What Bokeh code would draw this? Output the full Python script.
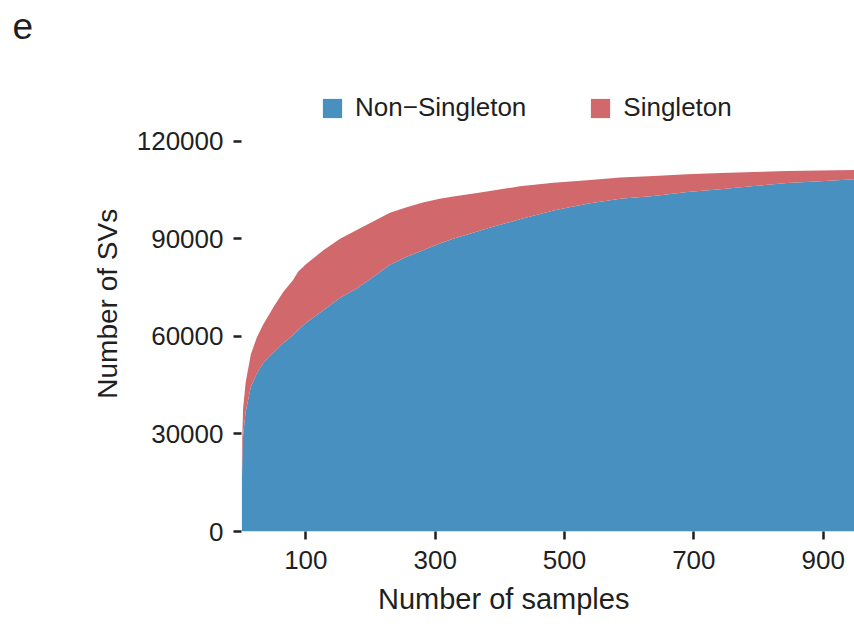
from bokeh.plotting import figure
from bokeh.models import (ColumnDataSource, FixedTicker, BasicTickFormatter, Legend,
                          LegendItem, Range1d)
from bokeh.embed import file_html
from bokeh.resources import INLINE

# ---- data ----
samples = [1, 2, 3, 7, 15, 24, 34, 44, 50, 65, 80, 88, 101, 127, 153, 178, 204, 230,
           256, 281, 307, 328, 380, 431, 483, 535, 586, 638, 690, 741, 793, 844, 896, 948]
non_singleton = [14000, 24000, 29700, 36900, 44500, 48600, 51800, 54000, 55000, 57900,
                 60400, 62000, 64300, 68100, 71900, 74700, 78300, 82100, 84500, 86500,
                 88600, 90100, 93200, 96050, 98800, 100860, 102400, 103200, 104450,
                 105270, 106300, 107200, 107800, 108400]
singleton = [9500, 7000, 8200, 9100, 10000, 11000, 11900, 13000, 14100, 15800,
             16900, 17900, 18100, 18400, 18200, 18000, 17100, 16000, 15300, 14700,
             13800, 13000, 11450, 10150, 8500, 7240, 6550, 6200, 5450, 5030, 4300,
             3700, 3300, 2800]
series_names = ["Non\u2212Singleton", "Singleton"]
x_ticks = [100, 300, 500, 700, 900]
y_ticks = [0, 30000, 60000, 90000, 120000]

BLUE = "#4790C0"
RED = "#D0686C"
TXT = "#1f1f1f"
FONT = "Liberation Sans"
NB = "\u00a0"

src = ColumnDataSource(dict(samples=samples, non_singleton=non_singleton, singleton=singleton))

p = figure(frame_width=613, frame_height=471,
           min_border_left=241, min_border_right=0, min_border_top=60, min_border_bottom=93,
           x_range=Range1d(0.5, 948.4), y_range=Range1d(0, 144923),
           output_backend="svg", toolbar_location=None)
p.outline_line_color = None
p.xgrid.visible = False
p.ygrid.visible = False
p.background_fill_color = "white"
p.border_fill_color = "white"

p.title.text = "e"
p.title.text_font = FONT
p.title.text_font_size = "37px"
p.title.text_font_style = "normal"
p.title.text_color = TXT
p.title.align = "left"
p.title.offset = -229
p.title.standoff = 0
p.title.vertical_align = "top"
p.title.padding = dict(left=0, right=0, top=0, bottom=20)

rs = p.varea_stack(["non_singleton", "singleton"], x="samples", color=[BLUE, RED], source=src)

for ax in (p.xaxis[0], p.yaxis[0]):
    ax.axis_line_color = None
    ax.major_tick_line_color = TXT
    ax.major_tick_line_width = 2.5
    ax.major_tick_out = 8
    ax.major_tick_in = 0
    ax.minor_tick_line_color = None
    ax.major_label_text_font = FONT
    ax.major_label_text_font_size = "26px"
    ax.major_label_text_color = TXT
    ax.axis_label_text_font = FONT
    ax.axis_label_text_font_style = "normal"
    ax.axis_label_text_color = TXT

p.xaxis.ticker = FixedTicker(ticks=x_ticks)
p.yaxis.ticker = FixedTicker(ticks=y_ticks)
p.yaxis.formatter = BasicTickFormatter(use_scientific=False)
p.xaxis.axis_label = "Number of samples" + NB * 11
p.yaxis.axis_label = "Number of SVs" + NB * 2
p.xaxis.axis_label_text_font_size = "29px"
p.yaxis.axis_label_text_font_size = "28px"
p.xaxis.major_label_standoff = 11
p.yaxis.major_label_standoff = 10
p.xaxis.axis_label_standoff = 11
p.yaxis.axis_label_standoff = 11

legend = Legend(items=[LegendItem(label=series_names[0], renderers=[rs[0]]),
                       LegendItem(label=series_names[1], renderers=[rs[1]])],
                orientation="horizontal", location=(79, 408),
                glyph_width=24, glyph_height=24, label_standoff=11, spacing=62,
                padding=0, margin=0, border_line_color=None, background_fill_alpha=0,
                label_text_font=FONT, label_text_font_size="26px", label_text_color=TXT)
p.add_layout(legend)

open("out.html", "w").write(file_html(p, INLINE))
